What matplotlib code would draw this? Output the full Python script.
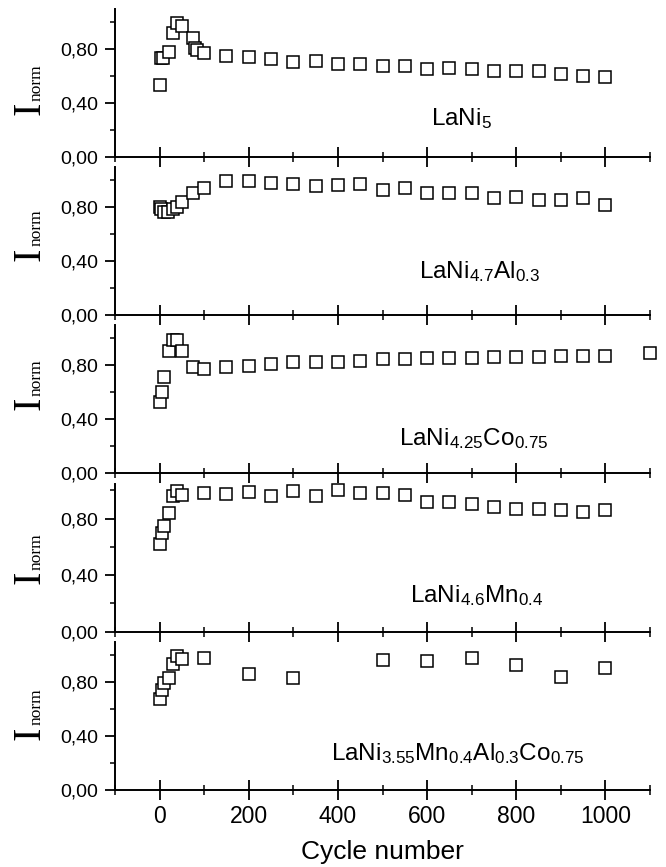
import matplotlib
matplotlib.use("Agg")
import matplotlib.pyplot as plt
from matplotlib.ticker import MultipleLocator, FuncFormatter

plt.rcParams['font.family'] = ['Liberation Sans', 'DejaVu Sans']
plt.rcParams['mathtext.fontset'] = 'custom'
plt.rcParams['mathtext.rm'] = 'Liberation Sans'
plt.rcParams['mathtext.it'] = 'Liberation Sans'
plt.rcParams['mathtext.default'] = 'regular'

# ---------------- data ----------------
late = [150, 200, 250, 300, 350, 400, 450, 500, 550, 600, 650, 700,
        750, 800, 850, 900, 950, 1000]

x_lani5 = [0, 3, 8, 20, 30, 40, 50, 75, 80, 85, 100] + late
y_lani5 = [0.53, 0.73, 0.73, 0.78, 0.92, 0.99, 0.97, 0.88, 0.81, 0.79, 0.77,
           0.745, 0.738, 0.726, 0.706, 0.708, 0.69, 0.69, 0.671, 0.671, 0.654,
           0.659, 0.651, 0.634, 0.636, 0.634, 0.617, 0.602, 0.592]

x_al = [0, 4, 9, 19, 30, 40, 50, 75, 100] + late
y_al = [0.805, 0.785, 0.768, 0.768, 0.785, 0.805, 0.842, 0.909, 0.946,
        0.998, 0.993, 0.983, 0.973, 0.961, 0.964, 0.971, 0.929, 0.946, 0.904,
        0.904, 0.904, 0.872, 0.879, 0.854, 0.854, 0.872, 0.817]

x_co = [1, 5, 10, 20, 30, 40, 50, 75, 100] + late + [1100]
y_co = [0.525, 0.603, 0.71, 0.905, 0.985, 0.985, 0.905, 0.783, 0.77,
        0.788, 0.797, 0.812, 0.822, 0.822, 0.822, 0.829, 0.842, 0.847, 0.854,
        0.854, 0.854, 0.862, 0.862, 0.862, 0.867, 0.871, 0.871, 0.891]

x_mn = [1, 5, 10, 20, 30, 40, 50, 100] + late
y_mn = [0.618, 0.695, 0.749, 0.841, 0.959, 0.997, 0.966, 0.978,
        0.973, 0.989, 0.959, 0.996, 0.959, 0.999, 0.982, 0.978, 0.966, 0.919,
        0.919, 0.902, 0.883, 0.865, 0.865, 0.86, 0.844, 0.86]

x_mix = [1, 5, 10, 20, 30, 40, 50, 100, 200, 300, 500, 600, 700, 800, 900, 1000]
y_mix = [0.67, 0.739, 0.788, 0.832, 0.93, 0.99, 0.968, 0.975, 0.857, 0.832,
         0.965, 0.955, 0.977, 0.923, 0.837, 0.903]

labels = [r'LaNi$_{5}$',
          r'LaNi$_{4.7}$Al$_{0.3}$',
          r'LaNi$_{4.25}$Co$_{0.75}$',
          r'LaNi$_{4.6}$Mn$_{0.4}$',
          r'LaNi$_{3.55}$Mn$_{0.4}$Al$_{0.3}$Co$_{0.75}$']

series = [(x_lani5, y_lani5), (x_al, y_al), (x_co, y_co), (x_mn, y_mn),
          (x_mix, y_mix)]

# ---------------- layout ----------------
W, H = 666, 867
fig = plt.figure(figsize=(W / 100, H / 100), dpi=100)

bottoms_px = [156.7, 315, 473.3, 631.7, 790]
ytops = [1.10, 1.10, 1.095, 1.046, 1.095]
label_pos = [(677, 0.236), (717, 0.273), (704, 0.209), (712, 0.212), (670, 0.222)]
ylab_off = [48, 61, 70, 54, 57]
left_px, right_px, h_px = 115, 650, 148

fmt = FuncFormatter(lambda v, p: f"{v:.2f}".replace('.', ','))

for i, ((xs, ys), lab) in enumerate(zip(series, labels)):
    B = bottoms_px[i]
    ax = fig.add_axes([left_px / W, 1 - B / H, (right_px - left_px) / W, h_px / H])
    ax.plot(xs, ys, ls='none', marker='s', ms=8, mfc='white', mec='black',
            mew=1.1, clip_on=False, zorder=5)
    ax.set_xlim(-100, 1100)
    ax.set_ylim(0, ytops[i])
    for s in ['top', 'right']:
        ax.spines[s].set_visible(False)
    for s in ['left', 'bottom']:
        ax.spines[s].set_linewidth(1.4)
    ax.xaxis.set_major_locator(MultipleLocator(200))
    ax.xaxis.set_minor_locator(MultipleLocator(100))
    ax.yaxis.set_major_locator(MultipleLocator(0.4))
    ax.yaxis.set_minor_locator(MultipleLocator(0.2))
    ax.yaxis.set_major_formatter(fmt)
    ax.tick_params(axis='x', which='major', direction='inout', length=14,
                   width=1.3, labelsize=16.5, pad=4)
    ax.tick_params(axis='x', which='minor', direction='inout', length=7.5,
                   width=1.1)
    ax.tick_params(axis='y', which='major', direction='out', length=7,
                   width=1.3, labelsize=14, pad=5)
    ax.tick_params(axis='y', which='minor', direction='out', length=3.6,
                   width=1.1)
    if i < 4:
        ax.tick_params(axis='x', which='both', labelbottom=False)
    ax.set_facecolor('none')
    ax.text(label_pos[i][0], label_pos[i][1], lab, ha='center', va='baseline',
            fontsize=17.5)
    # y label: big serif I with small subscript "norm"
    cy = B - ylab_off[i]
    fig.text(30 / W, 1 - cy / H, 'I', rotation=90, ha='center', va='center',
             fontsize=29, family='Liberation Serif')
    fig.text(37 / W, 1 - (cy - 26) / H, 'norm', rotation=90, ha='center',
             va='center', fontsize=12.5, family='Liberation Serif')

fig.text(382.5 / W, 1 - 859 / H, 'Cycle number', ha='center', va='baseline',
         fontsize=19)

fig.savefig('out.png', dpi=100)
